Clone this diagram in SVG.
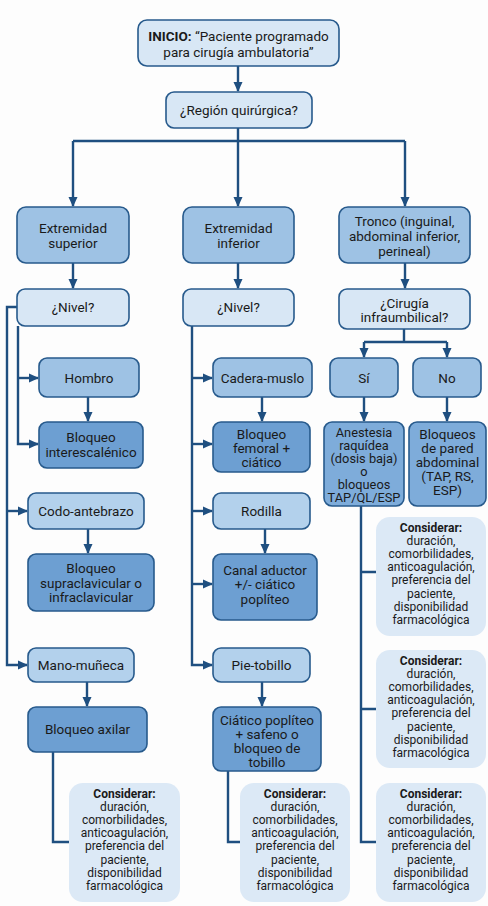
<svg xmlns="http://www.w3.org/2000/svg" width="488" height="906" viewBox="0 0 488 906">
<style>
text{font-family:Roboto,"Liberation Sans",sans-serif;fill:#1a1a1a;text-anchor:middle}
.t{font-size:13.5px}
.t2{font-size:12.8px}
.s{font-size:12px}
.box{stroke:#275a8c;stroke-width:1.6}
.l1{fill:#d8e7f5}
.l2{fill:#b3d1ec}
.m{fill:#9ec2e4}
.m2{fill:#7eacda}
.d{fill:#6d9fd2}
.c{fill:#dce9f6}
.cn{fill:none;stroke:#1f4f80;stroke-width:2.4}
</style>
<defs>
<marker id="ah" markerUnits="userSpaceOnUse" markerWidth="10" markerHeight="10" viewBox="0 0 10 10" refX="9" refY="5" orient="auto">
<path d="M0,0.5 L10,5 L0,9.5 z" fill="#1f4f80"/>
</marker>
</defs>
<rect width="488" height="906" fill="#fdfdfd"/>

<g id="connectors">
<path class="cn" d="M238,66 V91" marker-end="url(#ah)"/>
<path class="cn" d="M238,128 V141 M73,141 H405"/>
<path class="cn" d="M73,141 V206" marker-end="url(#ah)"/>
<path class="cn" d="M238,141 V206" marker-end="url(#ah)"/>
<path class="cn" d="M405,141 V206" marker-end="url(#ah)"/>
<path class="cn" d="M73,263 V288" marker-end="url(#ah)"/>
<path class="cn" d="M238,263 V288" marker-end="url(#ah)"/>
<path class="cn" d="M405,263 V288" marker-end="url(#ah)"/>
<path class="cn" d="M17,307 H7 V665 H27" marker-end="url(#ah)"/>
<path class="cn" d="M7,511 H27" marker-end="url(#ah)"/>
<path class="cn" d="M18,326 V444 H38" marker-end="url(#ah)"/>
<path class="cn" d="M18,378 H38" marker-end="url(#ah)"/>
<path class="cn" d="M88,397 V421" marker-end="url(#ah)"/>
<path class="cn" d="M88,529 V553" marker-end="url(#ah)"/>
<path class="cn" d="M87,682 V706" marker-end="url(#ah)"/>
<path class="cn" d="M53,752 V842 H69"/>
<path class="cn" d="M192,326 V665 H212" marker-end="url(#ah)"/>
<path class="cn" d="M192,378 H212" marker-end="url(#ah)"/>
<path class="cn" d="M192,444 H212" marker-end="url(#ah)"/>
<path class="cn" d="M192,511 H212" marker-end="url(#ah)"/>
<path class="cn" d="M192,584 H212" marker-end="url(#ah)"/>
<path class="cn" d="M262,397 V421" marker-end="url(#ah)"/>
<path class="cn" d="M265,529 V553" marker-end="url(#ah)"/>
<path class="cn" d="M262,682 V706" marker-end="url(#ah)"/>
<path class="cn" d="M228,771 V842 H240"/>
<path class="cn" d="M404,329 V342 M364,342 H447"/>
<path class="cn" d="M364,342 V357" marker-end="url(#ah)"/>
<path class="cn" d="M447,342 V357" marker-end="url(#ah)"/>
<path class="cn" d="M364,397 V421" marker-end="url(#ah)"/>
<path class="cn" d="M447,397 V421" marker-end="url(#ah)"/>
<path class="cn" d="M361,506 V842 H376 M361,572 H376 M361,709 H376"/>
</g>

<g id="inicio">
<rect class="box l1" x="138" y="20" width="201" height="46" rx="9"/>
<text class="t" x="238.5" y="41"><tspan font-weight="bold">INICIO:</tspan> “Paciente programado</text>
<text class="t" x="238.5" y="57">para cirugía ambulatoria”</text>
</g>
<g id="region">
<rect class="box l1" x="166" y="92" width="146" height="36" rx="8"/>
<text class="t" x="239" y="115">¿Región quirúrgica?</text>
</g>

<g id="ext-sup">
<rect class="box m" x="17" y="207" width="112" height="56" rx="9"/>
<text class="t" x="73" y="233">Extremidad</text>
<text class="t" x="73" y="248">superior</text>
</g>
<g id="ext-inf">
<rect class="box m" x="183" y="207" width="111" height="56" rx="9"/>
<text class="t" x="238.5" y="233">Extremidad</text>
<text class="t" x="238.5" y="248">inferior</text>
</g>
<g id="tronco">
<rect class="box m" x="339" y="207" width="131" height="56" rx="9"/>
<text class="t" x="404.5" y="226">Tronco (inguinal,</text>
<text class="t" x="404.5" y="241">abdominal inferior,</text>
<text class="t" x="404.5" y="256">perineal)</text>
</g>

<g id="nivel-sup">
<rect class="box l1" x="17" y="289" width="112" height="37" rx="8"/>
<text class="t" x="73" y="312">¿Nivel?</text>
</g>
<g id="nivel-inf">
<rect class="box l1" x="183" y="289" width="111" height="37" rx="8"/>
<text class="t" x="238.5" y="312">¿Nivel?</text>
</g>
<g id="cirugia">
<rect class="box l1" x="339" y="289" width="131" height="40" rx="8"/>
<text class="t" x="404.5" y="308">¿Cirugía</text>
<text class="t" x="404.5" y="322">infraumbilical?</text>
</g>

<g id="hombro">
<rect class="box m" x="39" y="358" width="100" height="39" rx="8"/>
<text class="t" x="89" y="383">Hombro</text>
</g>
<g id="cadera">
<rect class="box m" x="213" y="358" width="99" height="39" rx="8"/>
<text class="t" x="262.5" y="383">Cadera-muslo</text>
</g>
<g id="si">
<rect class="box m" x="330" y="358" width="68" height="39" rx="8"/>
<text class="t" x="364" y="383">Sí</text>
</g>
<g id="no">
<rect class="box m" x="413" y="358" width="68" height="39" rx="8"/>
<text class="t" x="447" y="383">No</text>
</g>

<g id="interescalenico">
<rect class="box d" x="39" y="422" width="104" height="46" rx="8"/>
<text class="t" x="91" y="442">Bloqueo</text>
<text class="t" x="91" y="457">interescalénico</text>
</g>
<g id="femoral">
<rect class="box d" x="213" y="422" width="97" height="50" rx="8"/>
<text class="t" x="261.5" y="439">Bloqueo</text>
<text class="t" x="261.5" y="453">femoral +</text>
<text class="t" x="261.5" y="467">ciático</text>
</g>
<g id="anestesia">
<rect class="box m2" x="324" y="422" width="80" height="84" rx="8"/>
<text class="t2" x="364" y="437">Anestesia</text>
<text class="t2" x="364" y="450">raquídea</text>
<text class="t2" x="364" y="463">(dosis baja)</text>
<text class="t2" x="364" y="476">o</text>
<text class="t2" x="364" y="489">bloqueos</text>
<text class="t2" x="364" y="502">TAP/QL/ESP</text>
</g>
<g id="pared">
<rect class="box m2" x="409" y="422" width="77" height="84" rx="8"/>
<text class="t" x="447.5" y="439">Bloqueos</text>
<text class="t" x="447.5" y="453">de pared</text>
<text class="t" x="447.5" y="467">abdominal</text>
<text class="t" x="447.5" y="481">(TAP, RS,</text>
<text class="t" x="447.5" y="495">ESP)</text>
</g>

<g id="codo">
<rect class="box l2" x="28" y="493" width="116" height="36" rx="8"/>
<text class="t" x="86" y="516">Codo-antebrazo</text>
</g>
<g id="rodilla">
<rect class="box l2" x="213" y="493" width="97" height="36" rx="8"/>
<text class="t" x="261.5" y="516">Rodilla</text>
</g>
<g id="supraclavicular">
<rect class="box d" x="28" y="554" width="126" height="57" rx="8"/>
<text class="t" x="91" y="573">Bloqueo</text>
<text class="t" x="91" y="588">supraclavicular o</text>
<text class="t" x="91" y="602">infraclavicular</text>
</g>
<g id="canal">
<rect class="box d" x="213" y="554" width="104" height="66" rx="8"/>
<text class="t" x="265" y="575">Canal aductor</text>
<text class="t" x="265" y="589">+/- ciático</text>
<text class="t" x="265" y="604">poplíteo</text>
</g>

<g id="mano">
<rect class="box l2" x="28" y="648" width="106" height="34" rx="8"/>
<text class="t" x="81" y="670">Mano-muñeca</text>
</g>
<g id="pie">
<rect class="box l2" x="213" y="648" width="97" height="34" rx="8"/>
<text class="t" x="261.5" y="670">Pie-tobillo</text>
</g>
<g id="axilar">
<rect class="box d" x="28" y="707" width="119" height="45" rx="8"/>
<text class="t" x="87.5" y="734">Bloqueo axilar</text>
</g>
<g id="ciatico">
<rect class="box d" x="213" y="707" width="108" height="64" rx="8"/>
<text class="t" x="267" y="725">Ciático poplíteo</text>
<text class="t" x="267" y="739">+ safeno o</text>
<text class="t" x="267" y="753">bloqueo de</text>
<text class="t" x="267" y="767">tobillo</text>
</g>

<g id="considerar-r1">
<rect class="c" x="376" y="517" width="110" height="119" rx="14"/>
<text class="s" x="431" y="532"><tspan font-weight="bold">Considerar:</tspan><tspan x="431" dy="13.1">duración,</tspan><tspan x="431" dy="13.1">comorbilidades,</tspan><tspan x="431" dy="13.1">anticoagulación,</tspan><tspan x="431" dy="13.1">preferencia del</tspan><tspan x="431" dy="13.1">paciente,</tspan><tspan x="431" dy="13.1">disponibilidad</tspan><tspan x="431" dy="13.1">farmacológica</tspan></text>
</g>
<g id="considerar-r2">
<rect class="c" x="376" y="650" width="110" height="118" rx="14"/>
<text class="s" x="431" y="665"><tspan font-weight="bold">Considerar:</tspan><tspan x="431" dy="13.1">duración,</tspan><tspan x="431" dy="13.1">comorbilidades,</tspan><tspan x="431" dy="13.1">anticoagulación,</tspan><tspan x="431" dy="13.1">preferencia del</tspan><tspan x="431" dy="13.1">paciente,</tspan><tspan x="431" dy="13.1">disponibilidad</tspan><tspan x="431" dy="13.1">farmacológica</tspan></text>
</g>
<g id="considerar-r3">
<rect class="c" x="376" y="783" width="110" height="119" rx="14"/>
<text class="s" x="431" y="798"><tspan font-weight="bold">Considerar:</tspan><tspan x="431" dy="13.1">duración,</tspan><tspan x="431" dy="13.1">comorbilidades,</tspan><tspan x="431" dy="13.1">anticoagulación,</tspan><tspan x="431" dy="13.1">preferencia del</tspan><tspan x="431" dy="13.1">paciente,</tspan><tspan x="431" dy="13.1">disponibilidad</tspan><tspan x="431" dy="13.1">farmacológica</tspan></text>
</g>
<g id="considerar-l">
<rect class="c" x="69" y="783" width="111" height="119" rx="14"/>
<text class="s" x="124.5" y="798"><tspan font-weight="bold">Considerar:</tspan><tspan x="124.5" dy="13.1">duración,</tspan><tspan x="124.5" dy="13.1">comorbilidades,</tspan><tspan x="124.5" dy="13.1">anticoagulación,</tspan><tspan x="124.5" dy="13.1">preferencia del</tspan><tspan x="124.5" dy="13.1">paciente,</tspan><tspan x="124.5" dy="13.1">disponibilidad</tspan><tspan x="124.5" dy="13.1">farmacológica</tspan></text>
</g>
<g id="considerar-m">
<rect class="c" x="240" y="783" width="110" height="119" rx="14"/>
<text class="s" x="295" y="798"><tspan font-weight="bold">Considerar:</tspan><tspan x="295" dy="13.1">duración,</tspan><tspan x="295" dy="13.1">comorbilidades,</tspan><tspan x="295" dy="13.1">anticoagulación,</tspan><tspan x="295" dy="13.1">preferencia del</tspan><tspan x="295" dy="13.1">paciente,</tspan><tspan x="295" dy="13.1">disponibilidad</tspan><tspan x="295" dy="13.1">farmacológica</tspan></text>
</g>
</svg>
